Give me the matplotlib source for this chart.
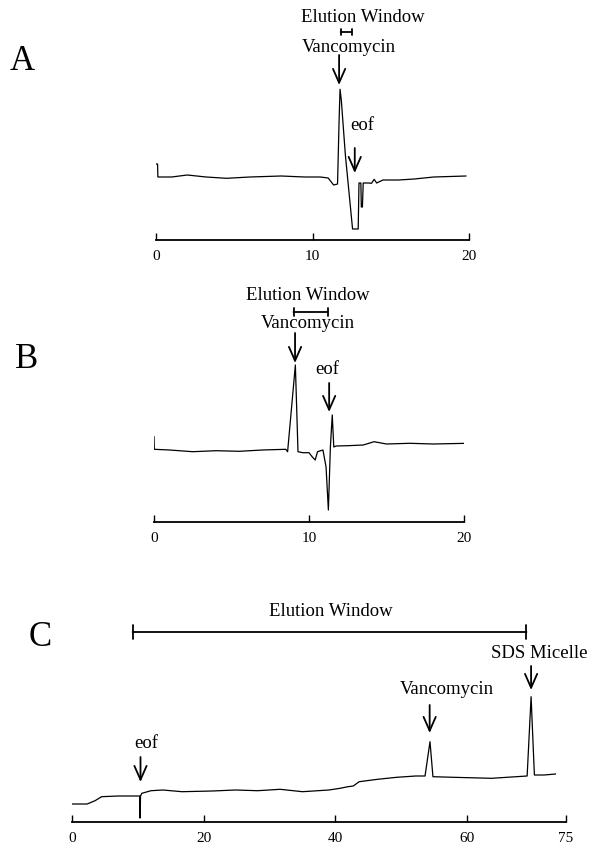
"""Three electropherograms (A, B, C): vancomycin elution windows, redrawn from a scan."""

import matplotlib

matplotlib.use("Agg")
import matplotlib.pyplot as plt

plt.rcParams.update({"font.family": ["Liberation Serif", "DejaVu Serif"], "text.color": "black"})

# --- panel A: time (min) vs detector signal (arbitrary units)
A_TIME = [0.0, 0.1, 0.12, 1.0, 2.0, 3.2, 4.5, 6.0, 8.0, 9.5, 10.5, 11.0, 11.35, 11.6, 11.7,
          11.76, 11.84, 12.1, 12.56, 12.92, 12.97, 13.09, 13.12, 13.19, 13.24, 13.6, 13.77,
          13.94, 14.1, 14.5, 15.5, 16.5, 17.75, 19.8]
A_SIGNAL = [76, 76, 63, 63, 65, 63, 61.7, 63, 64, 63, 63, 62, 55, 56, 120,
            150.7, 140, 85, 11, 11, 57, 57, 33, 33, 57, 57, 56.7,
            60.7, 57, 60, 60, 61, 63, 64]

# --- panel B
B_TIME = [0.0, 0.02, 1.0, 2.5, 4.0, 5.5, 7.0, 8.5, 8.62, 9.12, 9.29, 9.6, 10.0, 10.2, 10.4,
          10.55, 10.9, 11.1, 11.25, 11.38, 11.5, 11.6, 11.75, 12.5, 13.5, 14.2, 15.0, 16.5,
          18.0, 20.2]
B_SIGNAL = [85.3, 72.7, 72, 70.3, 71.3, 70.7, 72, 72.7, 70.3, 157, 70.3, 69.3, 69.3, 65.3, 62,
            70.3, 72, 55, 12, 75, 107, 75, 76, 76.3, 77, 80.3, 78, 78.7,
            78, 78.7]

# --- panel C
C_TIME = [0.0, 2.3, 3.5, 4.5, 7.0, 10.28, 10.32, 10.36, 10.4, 10.6, 12.0, 13.8, 16.7, 21.3,
          24.8, 28.2, 31.6, 35.0, 39.0, 40.7, 41.9, 42.7, 43.6, 46.4, 49.3, 52.2, 53.6,
          54.35, 54.8, 57.9, 63.7, 69.1, 69.7, 70.2, 71.7, 73.4]
C_SIGNAL = [18, 18, 21.3, 25.3, 26, 26, 4, 4, 26, 28.7, 31.3, 32, 30.3, 31,
            32, 31.3, 32.7, 30.3, 32, 33.7, 35.3, 36, 40.3, 42.7, 44.7, 46, 46,
            80.3, 45.3, 44.7, 43.7, 46, 125.3, 47, 47, 48]

A_TICKS = [0, 10, 20]
B_TICKS = [0, 10, 20]
C_TICKS = [0, 20, 40, 60, 75]

# elution windows (min) and peak labels: (label, time of arrow, text time)
A_WINDOW = (11.8, 12.5)
B_WINDOW = (9.0, 11.2)
C_WINDOW = (9.2, 69.0)

W, H = 591, 848
fig = plt.figure(figsize=(W / 100, H / 100), dpi=100)

LABEL_FS = 13.5
TICK_FS = 11


def make_axes(left, right, axis_y, top_y, xmax, ticks):
    ax = fig.add_axes([left / W, (H - axis_y) / H, (right - left) / W, (axis_y - top_y) / H])
    ax.set_xlim(0, xmax)
    ax.set_ylim(0, axis_y - top_y)
    for side in ("top", "right", "left"):
        ax.spines[side].set_visible(False)
    ax.spines["bottom"].set_linewidth(1.3)
    ax.set_yticks([])
    ax.set_xticks(ticks)
    ax.tick_params(axis="x", direction="in", length=5, width=1.0, pad=7, labelsize=TICK_FS)
    ax.patch.set_alpha(0)
    return ax


def arrow(ax, t, h_from, h_to):
    ax.annotate("", xy=(t, h_to), xytext=(t, h_from),
                arrowprops=dict(arrowstyle="->,head_length=0.5,head_width=0.22", lw=1.3,
                                color="black", shrinkA=0, shrinkB=0, mutation_scale=20),
                annotation_clip=False)


def bracket(ax, t0, t1, h, cap):
    ax.annotate("", xy=(t1, h), xytext=(t0, h),
                arrowprops=dict(arrowstyle=f"|-|,widthA={cap},widthB={cap}", lw=1.3,
                                color="black", shrinkA=0, shrinkB=0, mutation_scale=20),
                annotation_clip=False)


def label(ax, t, h, s):
    ax.text(t, h, s, ha="center", va="center", fontsize=LABEL_FS, clip_on=False)


# A
ax = make_axes(156, 469, 240, 0, 20, A_TICKS)
ax.plot(A_TIME, A_SIGNAL, color="black", lw=0.9)
label(ax, 13.2, 222, "Elution Window")
bracket(ax, *A_WINDOW, 208, 0.12)
label(ax, 12.3, 193, "Vancomycin")
arrow(ax, 11.7, 185, 155)
label(ax, 13.2, 114, "eof")
arrow(ax, 12.7, 92, 67)
fig.text(22 / W, 1 - 62 / H, "A", fontsize=25, ha="center", va="center")

# B
ax = make_axes(154, 464, 522, 280, 20, B_TICKS)
ax.plot(B_TIME, B_SIGNAL, color="black", lw=0.9)
label(ax, 9.9, 227, "Elution Window")
bracket(ax, *B_WINDOW, 210, 0.15)
label(ax, 9.9, 198, "Vancomycin")
arrow(ax, 9.1, 189, 159)
label(ax, 11.2, 153, "eof")
arrow(ax, 11.3, 139, 110)
fig.text(27 / W, 1 - 359 / H, "B", fontsize=25, ha="center", va="center")

# C
ax = make_axes(72, 566, 822, 590, 75, C_TICKS)
ax.plot(C_TIME, C_SIGNAL, color="black", lw=0.9)
label(ax, 39.3, 211, "Elution Window")
bracket(ax, *C_WINDOW, 190, 0.25)
label(ax, 70.9, 168, "SDS Micelle")
arrow(ax, 69.7, 156, 132)
label(ax, 56.9, 133, "Vancomycin")
arrow(ax, 54.3, 117, 89)
label(ax, 11.2, 79, "eof")
arrow(ax, 10.4, 65, 40)
fig.text(40 / W, 1 - 637 / H, "C", fontsize=25, ha="center", va="center")

fig.savefig("out.png", dpi=100, facecolor="white")
